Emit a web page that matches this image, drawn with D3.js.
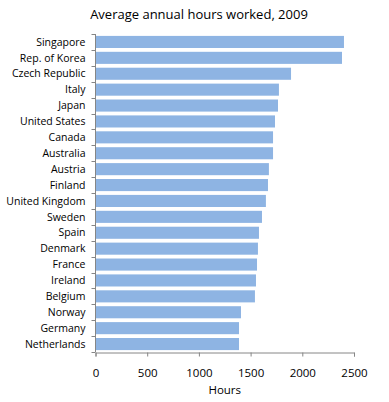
<!DOCTYPE html>
<html>
<head>
<meta charset="utf-8">
<script src="https://cdn.jsdelivr.net/npm/d3@7"></script>
<style>
  body { margin: 0; background: #fff; }
  text { font-family: "Open Sans", "Noto Sans", sans-serif; fill: #000; }
</style>
</head>
<body>
<div id="chart"></div>
<script>
// data
const countries = ["Singapore", "Rep. of Korea", "Czech Republic", "Italy", "Japan",
  "United States", "Canada", "Australia", "Austria", "Finland", "United Kingdom",
  "Sweden", "Spain", "Denmark", "France", "Ireland", "Belgium", "Norway",
  "Germany", "Netherlands"];
const hours = [2403, 2384, 1891, 1774, 1765, 1736, 1717, 1717, 1677, 1668, 1648,
  1610, 1581, 1571, 1562, 1552, 1542, 1407, 1388, 1388];
const xTicks = [0, 500, 1000, 1500, 2000, 2500];

const width = 389, height = 402;
const margin = {top: 34, right: 35, bottom: 50, left: 95.5};

const svg = d3.select("#chart").append("svg")
  .attr("width", width)
  .attr("height", height);

const x = d3.scaleLinear()
  .domain([0, 2500])
  .range([margin.left, width - margin.right]);

const y = d3.scaleBand()
  .domain(countries)
  .range([margin.top, height - margin.bottom])
  .paddingInner(0.24)
  .paddingOuter(0.12);

// bars
svg.append("g")
  .selectAll("rect")
  .data(countries)
  .join("rect")
  .attr("x", x(0) + 0.5)
  .attr("y", d => y(d))
  .attr("width", (d, i) => x(hours[i]) - x(0) - 0.5)
  .attr("height", y.bandwidth())
  .attr("fill", "#8eb4e3");

const axisColor = "#868686";

// y axis: line + ticks between bands
const yBottom = height - margin.bottom;
svg.append("line")
  .attr("x1", x(0)).attr("x2", x(0))
  .attr("y1", margin.top).attr("y2", yBottom)
  .attr("stroke", axisColor);

const step = (yBottom - margin.top) / countries.length;
svg.append("g")
  .selectAll("line")
  .data(d3.range(countries.length + 1))
  .join("line")
  .attr("x1", x(0) - 4).attr("x2", x(0))
  .attr("y1", i => Math.round(margin.top + i * step) + 0.5)
  .attr("y2", i => Math.round(margin.top + i * step) + 0.5)
  .attr("stroke", axisColor);

svg.append("g")
  .selectAll("text")
  .data(countries)
  .join("text")
  .attr("x", x(0) - 10)
  .attr("y", d => y(d) + y.bandwidth() / 2)
  .attr("dy", "0.35em")
  .attr("text-anchor", "end")
  .style("font-size", "10.5px")
  .text(d => d);

// x axis
const xAxis = svg.append("g")
  .attr("transform", `translate(0,${yBottom + 0.5})`)
  .call(d3.axisBottom(x).tickValues(xTicks).tickFormat(d3.format("d"))
    .tickSize(4).tickPadding(12));
xAxis.select(".domain").attr("stroke", axisColor);
xAxis.selectAll(".tick line").attr("stroke", axisColor);
xAxis.selectAll(".tick text")
  .style("font-size", "11.5px")
  .style("font-family", "'Open Sans', 'Noto Sans', sans-serif")
  .attr("fill", "#000");

svg.append("text")
  .attr("x", (x(0) + x(2500)) / 2)
  .attr("y", 394)
  .attr("text-anchor", "middle")
  .style("font-size", "11.5px")
  .text("Hours");

// title
svg.append("text")
  .attr("x", 199)
  .attr("y", 19)
  .attr("text-anchor", "middle")
  .style("font-size", "13px")
  .text("Average annual hours worked, 2009");
</script>
</body>
</html>
